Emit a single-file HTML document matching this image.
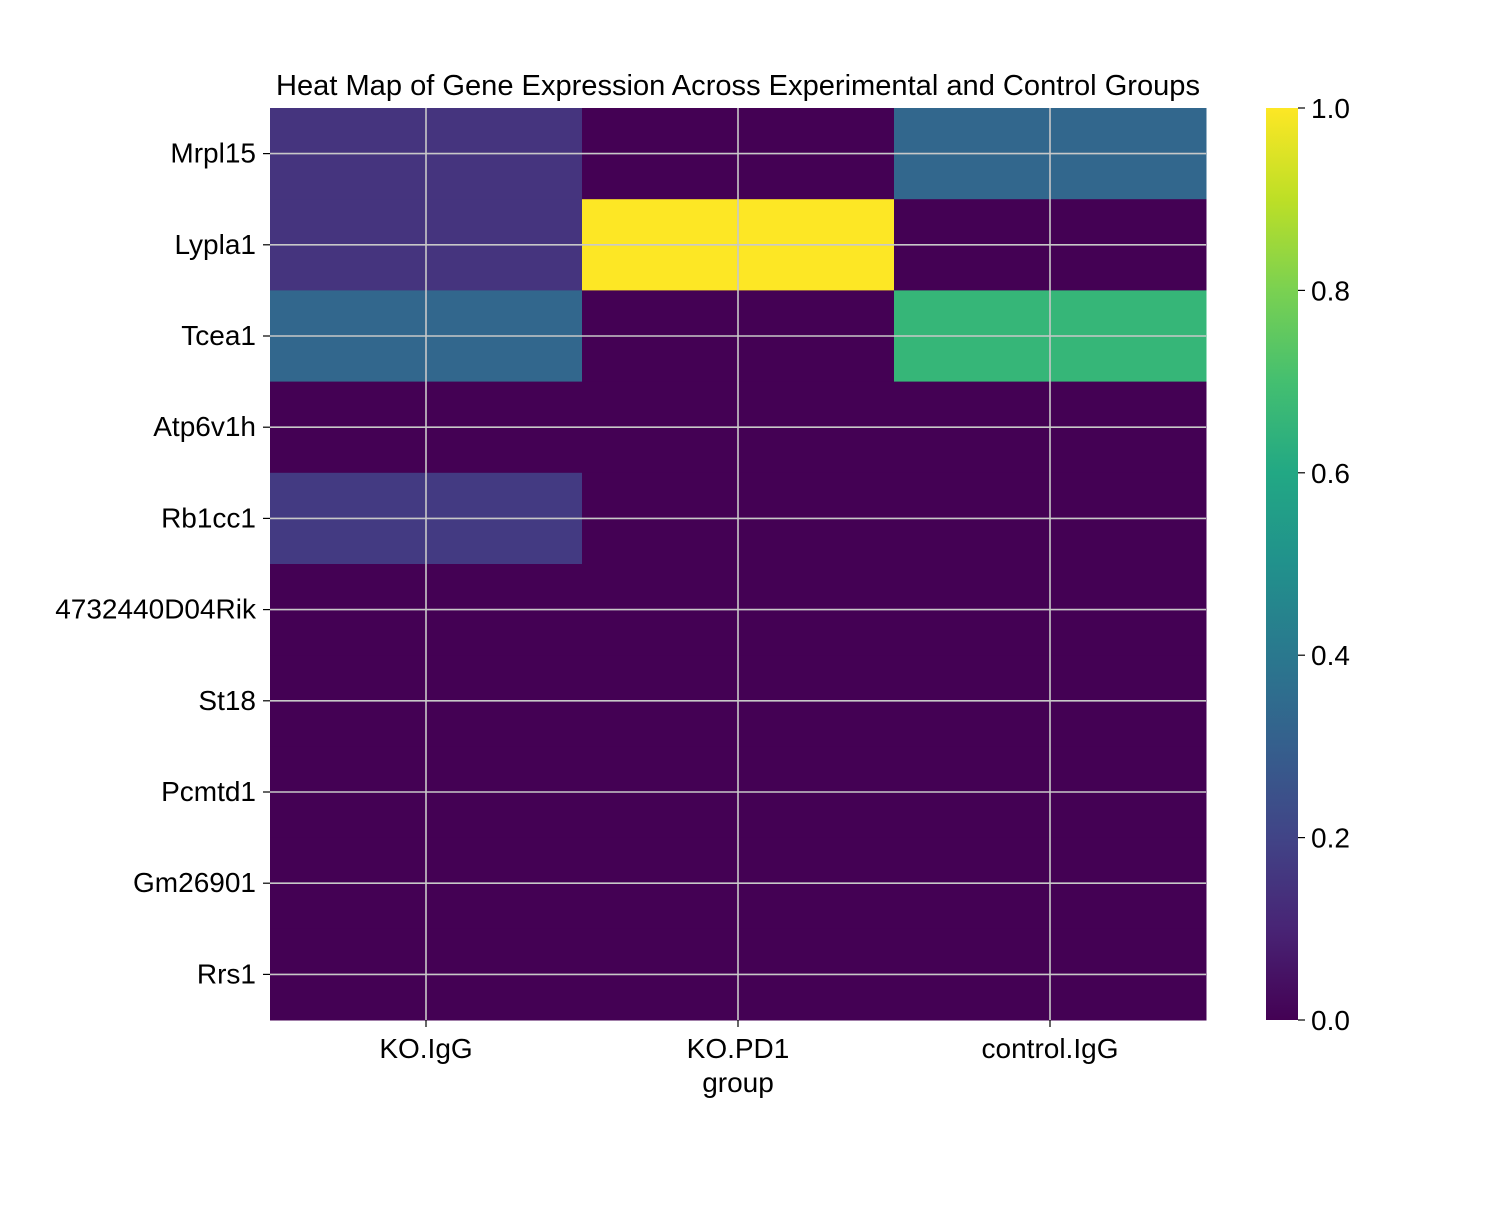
<!DOCTYPE html>
<html><head><meta charset="utf-8"><style>
body{margin:0;background:#fff}
svg text{font-family:"Liberation Sans",Arial,sans-serif;fill:#000}
</style></head><body>
<svg id="chart" width="1500" height="1200" viewBox="0 0 1500 1200" xmlns="http://www.w3.org/2000/svg">
<defs><linearGradient id="vir" x1="0" y1="1" x2="0" y2="0"></linearGradient></defs>
<text x="738" y="95" font-size="29" text-anchor="middle" textLength="924" lengthAdjust="spacingAndGlyphs">Heat Map of Gene Expression Across Experimental and Control Groups</text>
<text x="738" y="1092" font-size="28" text-anchor="middle">group</text>
</svg>
<script>
const genes=["Mrpl15","Lypla1","Tcea1","Atp6v1h","Rb1cc1","4732440D04Rik","St18","Pcmtd1","Gm26901","Rrs1"];
const groups=["KO.IgG","KO.PD1","control.IgG"];
const koIgG=[0.15,0.15,0.33,0,0.17,0,0,0,0,0];
const koPD1=[0,1,0,0,0,0,0,0,0,0];
const controlIgG=[0.33,0,0.66,0,0,0,0,0,0,0];
const cbTicks=[0,0.2,0.4,0.6,0.8,1.0];
const series=[koIgG,koPD1,controlIgG];
const vstops=["#440154","#482475","#414487","#355f8d","#2a788e","#21918c","#22a884","#44bf70","#7ad151","#bddf26","#fde725"];
function hex(h){return [1,3,5].map(i=>parseInt(h.substr(i,2),16));}
function viridis(v){v=Math.max(0,Math.min(1,v));const p=v*10,i=Math.min(9,Math.floor(p)),f=p-i;const a=hex(vstops[i]),b=hex(vstops[i+1]);return "rgb("+a.map((c,k)=>Math.round(c+(b[k]-c)*f)).join(",")+")";}
const L=270,R=1206,T=108,B=1020;
const cw=(R-L)/groups.length,rh=(B-T)/genes.length;
const xS=i=>L+i*cw, yS=j=>T+j*rh;
const NS="http://www.w3.org/2000/svg";
const svg=document.getElementById("chart");
function mk(t,a,p){const e=document.createElementNS(NS,t);for(const k in a)e.setAttribute(k,a[k]);(p||svg).appendChild(e);return e;}
const grad=document.getElementById("vir");
vstops.forEach((c,i)=>{mk("stop",{offset:(i*10)+"%","stop-color":c},grad);});
series.forEach((s,i)=>s.forEach((v,j)=>{
 const r=mk("rect",{x:xS(i),y:yS(j),width:cw+0.5,height:rh+0.5,fill:viridis(v)});
 
 
}));
groups.forEach((g,i)=>{const x=xS(i)+cw/2;
 const l=mk("line",{x1:x,x2:x,y1:T,y2:B,stroke:"#c8c8c8","stroke-width":1.6});
 
 
 mk("line",{x1:x,x2:x,y1:B,y2:B+7,stroke:"#000","stroke-width":1.2});
 const t=mk("text",{x:x,y:B+38,"font-size":28,"text-anchor":"middle"});t.textContent=g;
 
 
});
genes.forEach((g,j)=>{const y=yS(j)+rh/2;
 const l=mk("line",{x1:L,x2:R,y1:y,y2:y,stroke:"#c8c8c8","stroke-width":1.6});
 
 
 mk("line",{x1:L-7,x2:L,y1:y,y2:y,stroke:"#000","stroke-width":1.2});
 const t=mk("text",{x:L-14,y:y+9,"font-size":28,"text-anchor":"end"});t.textContent=g;
 
 
});
const cb=mk("rect",{x:1266,y:T,width:32,height:B-T,fill:"url(#vir)"});


cbTicks.forEach(v=>{const y=B-v*(B-T);
 mk("line",{x1:1298,x2:1305,y1:y,y2:y,stroke:"#000","stroke-width":1.2});
 const t=mk("text",{x:1311,y:y+10,"font-size":28});t.textContent=v.toFixed(1);
 
 
});
</script>
</body></html>
